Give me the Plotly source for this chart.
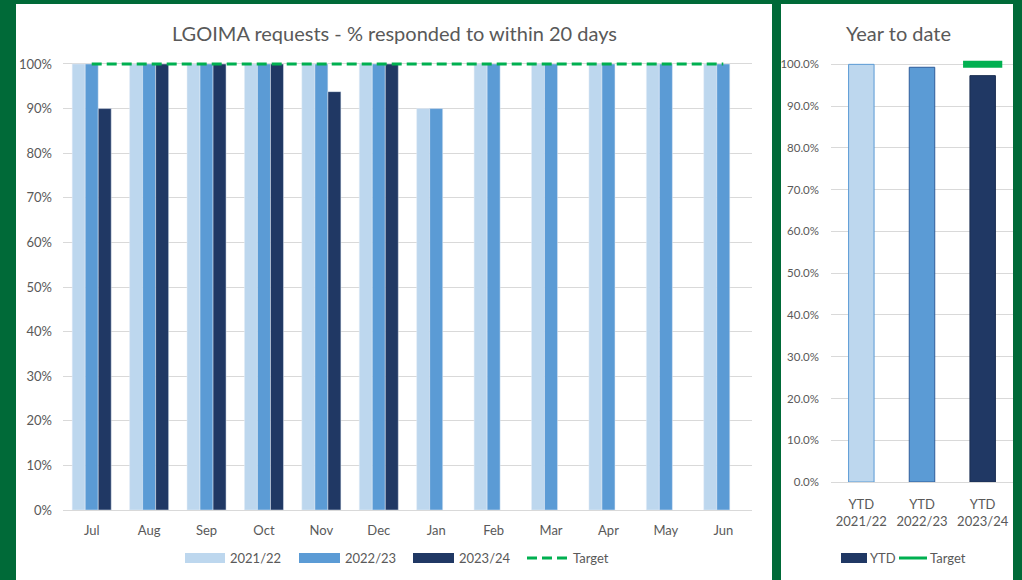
import plotly.graph_objects as go

# ---- data ----
months = ["Jul", "Aug", "Sep", "Oct", "Nov", "Dec", "Jan", "Feb", "Mar", "Apr", "May", "Jun"]
y2021_22 = [100, 100, 100, 100, 100, 100, 90, 100, 100, 100, 100, 100]
y2022_23 = [100, 100, 100, 100, 100, 100, 90, 100, 100, 100, 100, 100]
y2023_24 = [90, 100, 100, 100, 93.8, 100, None, None, None, None, None, None]
target_monthly = [100] * 12

ytd_labels = ["YTD<br>2021/22", "YTD<br>2022/23", "YTD<br>2023/24"]
ytd_values = [100.0, 99.3, 97.3]
ytd_target = [None, None, 100.0]

tick_vals = list(range(0, 101, 10))
left_tick_text = [f"{v}%" for v in tick_vals]
right_tick_text = [f"{v:.1f}%" for v in tick_vals]

# ---- styling ----
W, H = 1022, 580
GREEN_BG = "rgb(0,106,56)"
LIGHT = "#BDD7EE"
MID = "#5B9BD5"
DARK = "#203864"
TARGET = "#00B050"
GRID = "#D9D9D9"
TXT = "#595959"
FONT = "Lato"


def px(x):
    return x / W


def py(y):
    return 1 - y / H


fig = go.Figure()

# monthly chart
fig.add_trace(go.Bar(x=months, y=y2021_22, name="2021/22", marker_color=LIGHT,
                     xaxis="x", yaxis="y", showlegend=False))
fig.add_trace(go.Bar(x=months, y=y2022_23, name="2022/23", marker_color=MID,
                     xaxis="x", yaxis="y", showlegend=False))
fig.add_trace(go.Bar(x=months, y=y2023_24, name="2023/24", marker_color=DARK,
                     xaxis="x", yaxis="y", showlegend=False))
fig.add_trace(go.Scatter(x=months, y=target_monthly, name="Target", mode="lines",
                         line=dict(color=TARGET, width=3, dash="10px,5px"),
                         xaxis="x", yaxis="y", showlegend=False, cliponaxis=False))

# year-to-date chart
fig.add_trace(go.Bar(x=ytd_labels, y=ytd_values, name="YTD", width=0.42,
                     marker=dict(color=[LIGHT, MID, DARK],
                                 line=dict(color=[MID, "#2E5C9A", "#1A2E52"], width=1)),
                     xaxis="x2", yaxis="y2", showlegend=False))
fig.add_trace(go.Scatter(x=ytd_labels, y=ytd_target, name="Target", mode="markers",
                         marker=dict(symbol="line-ew", size=28,
                                     line=dict(color=TARGET, width=7)),
                         xaxis="x2", yaxis="y2", showlegend=False, cliponaxis=False))

# white panels on the green background
shapes = [
    dict(type="rect", xref="paper", yref="paper", x0=px(16), x1=px(772), y0=-0.01, y1=py(4),
         fillcolor="white", line=dict(width=0), layer="below"),
    dict(type="rect", xref="paper", yref="paper", x0=px(781), x1=px(1013), y0=-0.01, y1=py(4),
         fillcolor="white", line=dict(width=0), layer="below"),
]

annotations = [
    dict(text="LGOIMA requests - % responded to within 20 days", x=px(394), y=py(33),
         xref="paper", yref="paper", xanchor="center", yanchor="middle", showarrow=False,
         font=dict(family=FONT, size=20, color=TXT)),
    dict(text="Year to date", x=px(898), y=py(33),
         xref="paper", yref="paper", xanchor="center", yanchor="middle", showarrow=False,
         font=dict(family=FONT, size=20, color=TXT)),
]

# legend for the monthly chart
leg_y = 558
for (x0, x1, col, label) in [(185, 225, LIGHT, "2021/22"),
                             (299, 340, MID, "2022/23"),
                             (413, 454, DARK, "2023/24")]:
    shapes.append(dict(type="rect", xref="paper", yref="paper", x0=px(x0), x1=px(x1),
                       y0=py(leg_y + 5), y1=py(leg_y - 5), fillcolor=col, line=dict(width=0)))
    annotations.append(dict(text=label, x=px(x1 + 3), y=py(leg_y), xref="paper", yref="paper",
                            xanchor="left", yanchor="middle", showarrow=False,
                            font=dict(family=FONT, size=13, color=TXT)))
shapes.append(dict(type="line", xref="paper", yref="paper", x0=px(527), x1=px(569),
                   y0=py(leg_y), y1=py(leg_y), line=dict(color=TARGET, width=3, dash="10px,5px")))
annotations.append(dict(text="Target", x=px(571), y=py(leg_y), xref="paper", yref="paper",
                        xanchor="left", yanchor="middle", showarrow=False,
                        font=dict(family=FONT, size=13, color=TXT)))

# legend for the year-to-date chart
shapes.append(dict(type="rect", xref="paper", yref="paper", x0=px(841), x1=px(867),
                   y0=py(leg_y + 5), y1=py(leg_y - 5), fillcolor=DARK, line=dict(width=0)))
annotations.append(dict(text="YTD", x=px(868), y=py(leg_y), xref="paper", yref="paper",
                        xanchor="left", yanchor="middle", showarrow=False,
                        font=dict(family=FONT, size=13, color=TXT)))
shapes.append(dict(type="line", xref="paper", yref="paper", x0=px(899), x1=px(927),
                   y0=py(leg_y), y1=py(leg_y), line=dict(color=TARGET, width=3)))
annotations.append(dict(text="Target", x=px(928), y=py(leg_y), xref="paper", yref="paper",
                        xanchor="left", yanchor="middle", showarrow=False,
                        font=dict(family=FONT, size=13, color=TXT)))

axis_font = dict(family=FONT, size=13, color=TXT)
small_axis_font = dict(family=FONT, size=11.5, color=TXT)

fig.update_layout(
    width=W, height=H,
    margin=dict(l=0, r=0, t=0, b=0, pad=0, autoexpand=False),
    paper_bgcolor=GREEN_BG,
    plot_bgcolor="rgba(0,0,0,0)",
    barmode="group",
    bargap=0.32,
    bargroupgap=0,
    showlegend=False,
    shapes=shapes,
    annotations=annotations,
    xaxis=dict(domain=[px(63), px(752)], anchor="y", tickfont=axis_font, automargin=False,
               showgrid=False, showline=True, linecolor=GRID, linewidth=1,
               ticks="", ticklabelstandoff=8, fixedrange=True),
    yaxis=dict(domain=[py(510), py(57.3)], anchor="x", range=[0, 101.5], automargin=False,
               tickmode="array", tickvals=tick_vals, ticktext=left_tick_text, tickfont=axis_font,
               showgrid=True, gridcolor=GRID, gridwidth=1, zeroline=False,
               showline=False, ticks="", ticklabelstandoff=10, fixedrange=True),
    xaxis2=dict(domain=[px(831), px(1013)], anchor="y2", tickfont=axis_font, automargin=False,
                showgrid=False, showline=True, linecolor=GRID, linewidth=1,
                ticks="", ticklabelstandoff=10, fixedrange=True),
    yaxis2=dict(domain=[py(482), py(56)], anchor="x2", range=[0, 102], automargin=False,
                tickmode="array", tickvals=tick_vals, ticktext=right_tick_text,
                tickfont=small_axis_font,
                showgrid=True, gridcolor=GRID, gridwidth=1, zeroline=False,
                showline=False, ticks="", ticklabelstandoff=11, fixedrange=True),
)

fig.write_html("out.html")
